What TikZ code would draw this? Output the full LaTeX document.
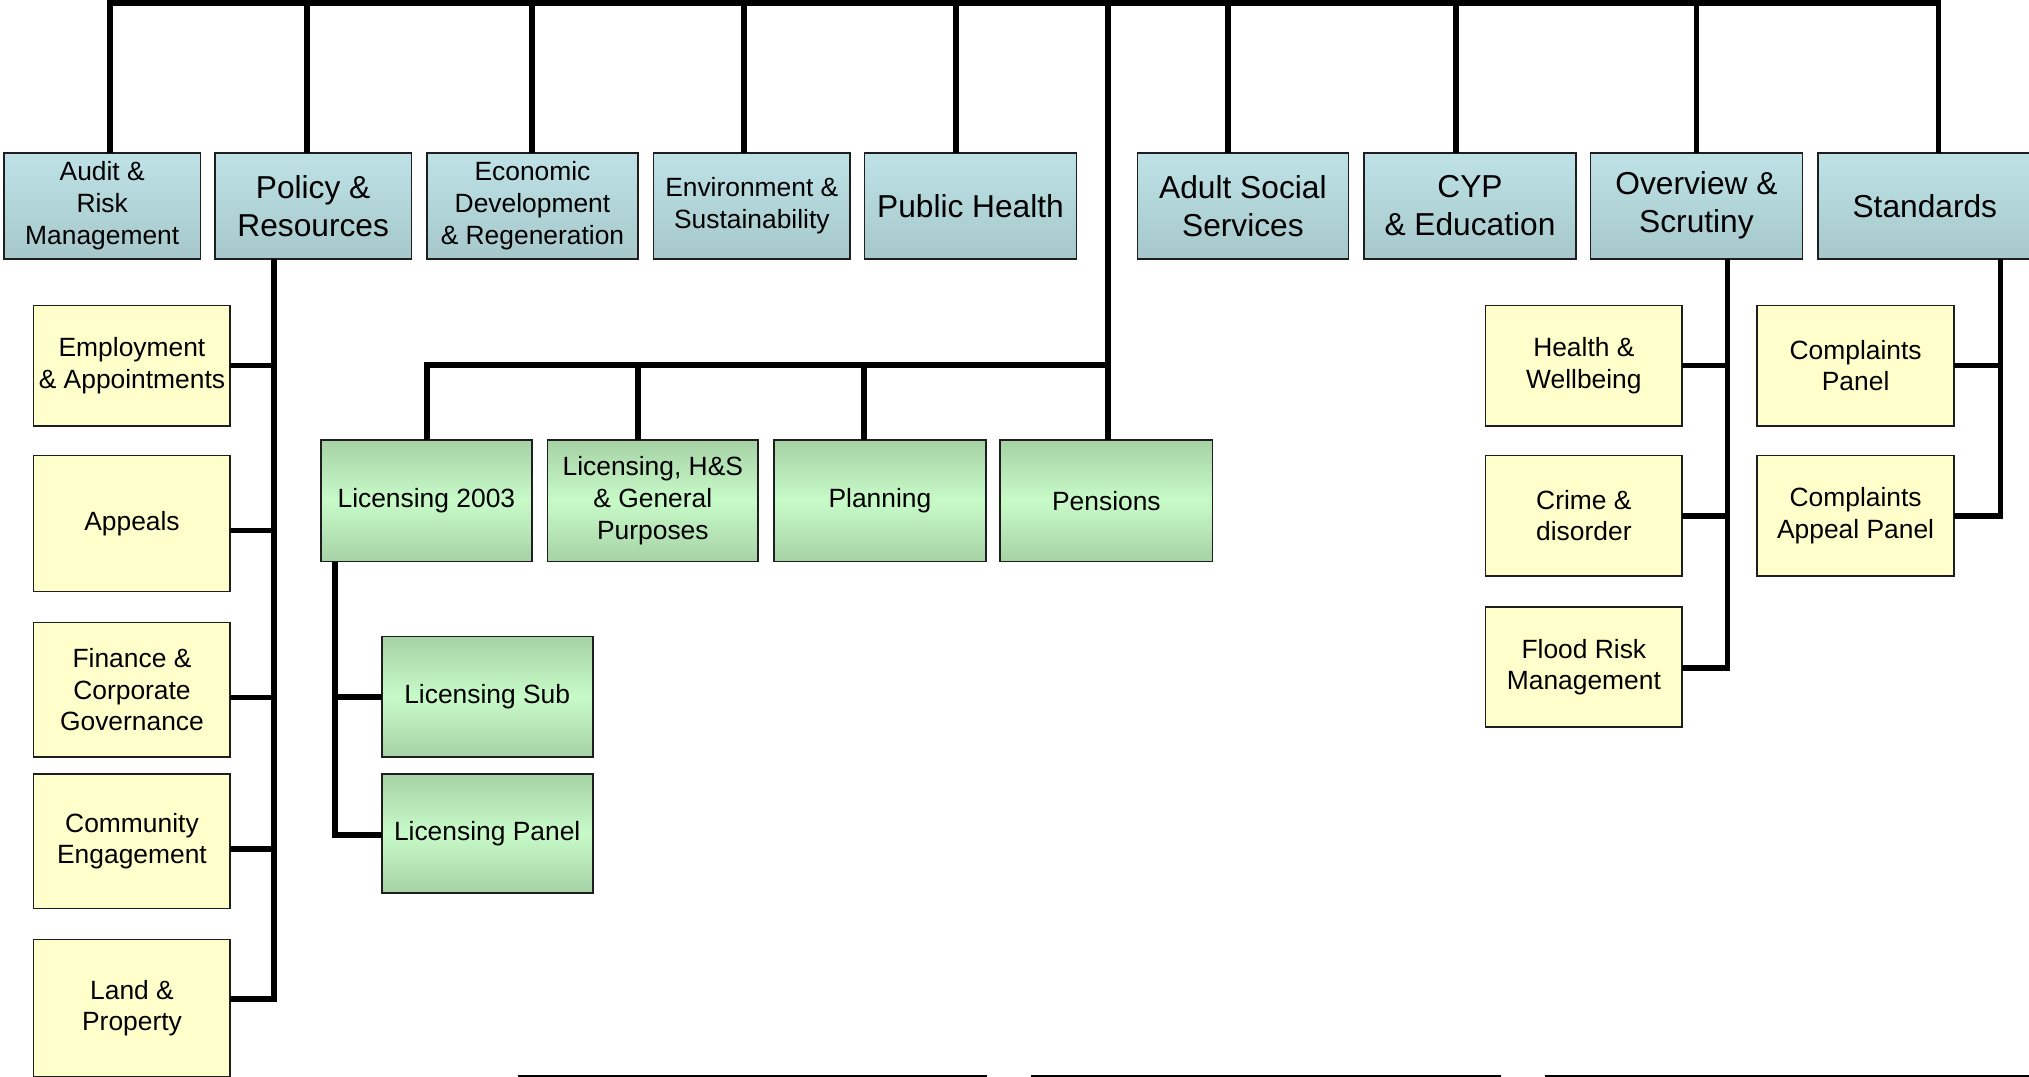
\documentclass[tikz,border=0pt]{standalone}
\usepackage{fontspec}
\setmainfont{Liberation Sans}
\usetikzlibrary{calc}
\definecolor{tealTop}{RGB}{190,226,230}
\definecolor{tealBot}{RGB}{166,200,203}
\definecolor{yelFill}{RGB}{255,255,204}
\definecolor{grnEdge}{RGB}{166,210,166}
\definecolor{grnMid}{RGB}{200,250,200}
\definecolor{boxLine}{RGB}{30,30,30}
\tikzset{
  basebox/.style={rectangle, draw=boxLine, line width=1.3pt, inner sep=0pt, outer sep=0pt, align=center, text=black},
  smalltext/.style={font=\fontsize{20.4}{24.5}\selectfont},
  bigtext/.style={font=\fontsize{24.5}{29.4}\selectfont},
  topbox/.style={basebox, top color=tealTop, bottom color=tealBot, minimum height=82pt},
  yelbox/.style={basebox, fill=yelFill, smalltext, minimum width=152pt},
  grnbox/.style={basebox, top color=grnEdge, bottom color=grnEdge, middle color=grnMid, smalltext, minimum width=163pt},
  conn/.style={line width=4.5pt, black, line join=miter, line cap=butt},
  thinline/.style={line width=1.6pt, black}
}
\begin{document}
\begin{tikzpicture}[x=1pt, y=-1pt]
\useasboundingbox (0,0) rectangle (1568,832);

% ---- top row ----
\node[topbox, smalltext, minimum width=152pt] (audit) at (79,159) {Audit \&\\Risk\\Management};
\node[topbox, bigtext, minimum width=152pt] (policy) at (242,159) {Policy \&\\Resources};
\node[topbox, smalltext, minimum width=163pt] (econ) at (411.5,159) {Economic\\Development\\\& Regeneration};
\node[topbox, smalltext, minimum width=152pt] (env) at (581,159) {Environment \&\\Sustainability};
\node[topbox, bigtext, minimum width=164pt] (ph) at (750,159) {Public Health};
\node[topbox, bigtext, minimum width=163pt] (adult) at (960.5,159) {Adult Social\\Services};
\node[topbox, bigtext, minimum width=164pt] (cyp) at (1136,159) {CYP\\\& Education};
\node[topbox, bigtext, minimum width=164pt] (ov) at (1311,159) {Overview \&\\Scrutiny};
\node[topbox, bigtext, minimum width=165pt] (std) at (1487.5,159) {Standards};

% ---- policy children ----
\node[yelbox, minimum height=93pt] (emp) at (102,282.5) {Employment\\\& Appointments};
\node[yelbox, minimum height=105pt] (app) at (102,404.5) {Appeals};
\node[yelbox, minimum height=104pt] (fin) at (102,533) {Finance \&\\Corporate\\Governance};
\node[yelbox, minimum height=104pt] (com) at (102,650) {Community\\Engagement};
\node[yelbox, minimum height=106pt] (land) at (102,779) {Land \&\\Property};

% ---- green row ----
\node[grnbox, minimum height=94pt] (lic) at (329.5,387) {Licensing 2003};
\node[grnbox, minimum height=94pt] (lhs) at (504.5,387) {Licensing, H\&S\\\& General\\Purposes};
\node[grnbox, minimum height=94pt, minimum width=164pt] (plan) at (680,387) {Planning};
\node[grnbox, minimum height=94pt, minimum width=164pt] (pen) at (855,387) {Pensions};
\node[grnbox, minimum height=93pt] (sub) at (376.5,538.5) {Licensing Sub};
\node[grnbox, minimum height=92pt] (panel) at (376.5,644) {Licensing Panel};

% ---- overview children ----
\node[yelbox, minimum height=93pt] (hw) at (1224,282.5) {Health \&\\Wellbeing};
\node[yelbox, minimum height=93pt] (crime) at (1224,398.5) {Crime \&\\disorder};
\node[yelbox, minimum height=93pt] (flood) at (1224,515.5) {Flood Risk\\Management};

% ---- standards children ----
\node[yelbox, minimum height=93pt] (cp) at (1434,282.5) {Complaints\\Panel};
\node[yelbox, minimum height=93pt] (cap) at (1434,398.5) {Complaints\\Appeal Panel};

% ---- top bus ----
\coordinate (busL) at (85,2.5);
\coordinate (busR) at (1498,2.5);
\draw[conn] (busL |- audit.north) -- (busL) -- (busR) -- (busR |- std.north);
\coordinate (tP) at (237,2.5);
\coordinate (tE) at (411,2.5);
\coordinate (tV) at (575,2.5);
\coordinate (tH) at (739,2.5);
\coordinate (tC) at (856,2.5);
\coordinate (tA) at (949,2.5);
\coordinate (tY) at (1125,2.5);
\coordinate (tO) at (1311,2.5);
\draw[conn] (tP) -- (tP |- policy.north);
\draw[conn] (tE) -- (tE |- econ.north);
\draw[conn] (tV) -- (tV |- env.north);
\draw[conn] (tH) -- (tH |- ph.north);
\draw[conn] (tA) -- (tA |- adult.north);
\draw[conn] (tY) -- (tY |- cyp.north);
\draw[conn] (tO) -- (tO |- ov.north);

% ---- center committee branch ----
\draw[conn] (tC) -- (tC |- pen.north);
\coordinate (cH) at (330,282);
\draw[conn] (cH |- lic.north) -- (cH) -- (cH -| tC);
\coordinate (d2) at (493,282);
\coordinate (d3) at (668,282);
\draw[conn] (d2) -- (d2 |- lhs.north);
\draw[conn] (d3) -- (d3 |- plan.north);

% ---- policy spine ----
\coordinate (pS) at (212,772);
\draw[conn] (pS |- policy.south) -- (pS) -- (pS -| land.east);
\draw[conn] (emp.east) -- (emp.east -| pS);
\draw[conn] ($(app.east)+(0,5.5)$) -- ($(app.east -| pS)+(0,5.5)$);
\draw[conn] ($(fin.east)+(0,6)$) -- ($(fin.east -| pS)+(0,6)$);
\draw[conn] ($(com.east)+(0,6)$) -- ($(com.east -| pS)+(0,6)$);

% ---- licensing spine ----
\coordinate (lS) at (259,645);
\draw[conn] (lS |- lic.south) -- (lS) -- (lS -| panel.west);
\draw[conn] (sub.west) -- (sub.west -| lS);

% ---- overview spine ----
\coordinate (oS) at (1335,516);
\draw[conn] (oS |- ov.south) -- (oS) -- (oS -| flood.east);
\draw[conn] (hw.east) -- (hw.east -| oS);
\draw[conn] (crime.east) -- (crime.east -| oS);

% ---- standards spine ----
\coordinate (sS) at (1546,399);
\draw[conn] (sS |- std.south) -- (sS) -- (sS -| cap.east);
\draw[conn] (cp.east) -- (cp.east -| sS);

% ---- bottom edge lines ----
\coordinate (b1a) at (400,831.5);
\coordinate (b1b) at (763,831.5);
\coordinate (b2a) at (797,831.5);
\coordinate (b2b) at (1160,831.5);
\coordinate (b3a) at (1194,831.5);
\coordinate (b3b) at (1568,831.5);
\draw[thinline] (b1a) -- (b1b);
\draw[thinline] (b2a) -- (b2b);
\draw[thinline] (b3a) -- (b3b);
\end{tikzpicture}
\end{document}
